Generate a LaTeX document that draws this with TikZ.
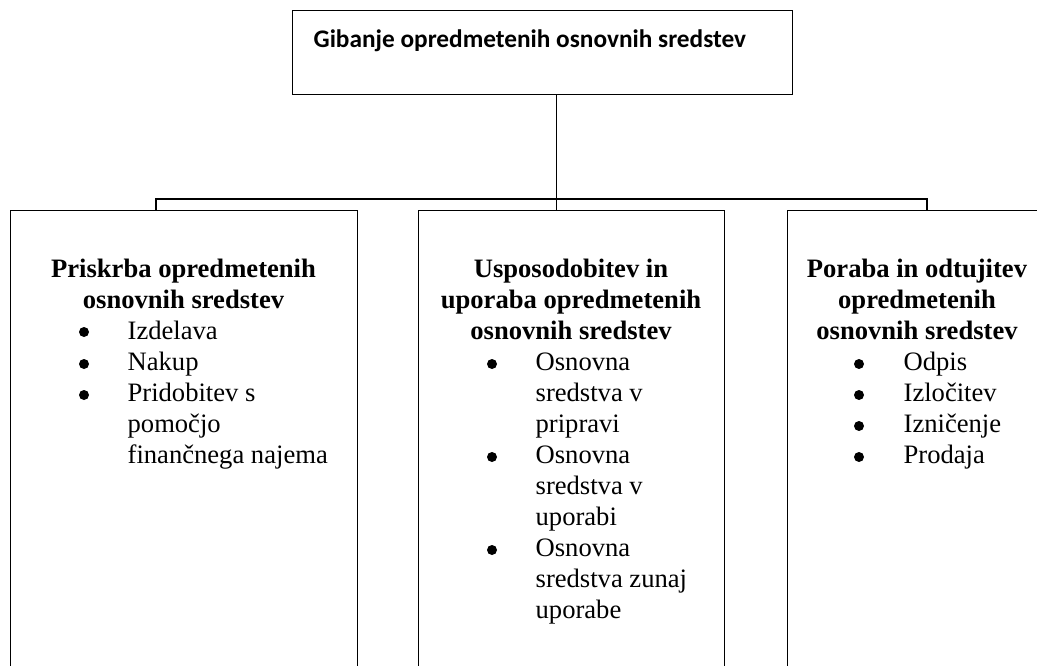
\documentclass[tikz,border=0pt]{standalone}
\usepackage{fontspec}
\setmainfont{Liberation Serif}
\newfontfamily\calibri{Carlito}
\begin{document}
\begin{tikzpicture}[x=1bp,y=-1bp, line width=1.3bp,
  box/.style={draw, rectangle, inner sep=0pt, anchor=north west},
  ttl/.style={font=\fontsize{26.7}{31}\selectfont\bfseries, align=center, anchor=base, inner sep=0pt},
  itm/.style={font=\fontsize{26.7}{31}\selectfont, align=left, anchor=base west, inner sep=0pt},
  bul/.style={circle, fill, inner sep=0pt, minimum size=10bp},
  toptitle/.style={font=\calibri\bfseries\fontsize{25.4}{30}\selectfont, anchor=base west, inner sep=0pt}]
\useasboundingbox (0,0) rectangle (1037,666);
\clip (0,0) rectangle (1037,666);
% boxes
\node[box, minimum width=500bp, minimum height=84bp] (top) at (292,10) {};
\node[box, minimum width=347bp, minimum height=520bp] (left) at (10,210) {};
\node[box, minimum width=306bp, minimum height=520bp] (mid) at (418,210) {};
\node[box, minimum width=260bp, minimum height=520bp] (right) at (787,210) {};
% title
\node[toptitle] (toptext) at (313,48) {Gibanje opredmetenih osnovnih sredstev};
% connectors
\coordinate (j) at (556,199);
\coordinate (busL) at (156,199);
\coordinate (busR) at (927,199);
\draw[line width=1bp] (j |- top.south) -- (j |- mid.north);
\draw[line width=1.6bp] (busL |- left.north) -- (busL) -- (busR) -- (busR |- right.north);
% left box (multi-line nodes are placed at the baseline of their last line)
\node[ttl] (lt) at (183.5,308) {Priskrba opredmetenih\\osnovnih sredstev};
\node[bul] (lb1) at (84,332) {};
\node[itm] (li1) at (127,339) {Izdelava};
\node[bul] (lb2) at (84,364) {};
\node[itm] (li2) at (127,370) {Nakup};
\node[bul] (lb3) at (84,395) {};
\node[itm] (li3) at (127,463) {Pridobitev s\\pomočjo\\finančnega najema};
% middle box
\node[ttl] (mt) at (571,339) {Usposodobitev in\\uporaba opredmetenih\\osnovnih sredstev};
\node[bul] (mb1) at (492,364) {};
\node[itm] (mi1) at (535,432) {Osnovna\\sredstva v\\pripravi};
\node[bul] (mb2) at (492,457) {};
\node[itm] (mi2) at (535,525) {Osnovna\\sredstva v\\uporabi};
\node[bul] (mb3) at (492,550) {};
\node[itm] (mi3) at (535,618) {Osnovna\\sredstva zunaj\\uporabe};
% right box
\node[ttl] (rt) at (917,339) {Poraba in odtujitev\\opredmetenih\\osnovnih sredstev};
\node[bul] (rb1) at (859,364) {};
\node[itm] (ri1) at (903,370) {Odpis};
\node[bul] (rb2) at (859,395) {};
\node[itm] (ri2) at (903,401) {Izločitev};
\node[bul] (rb3) at (859,426) {};
\node[itm] (ri3) at (903,432) {Izničenje};
\node[bul] (rb4) at (859,457) {};
\node[itm] (ri4) at (903,463) {Prodaja};
\end{tikzpicture}
\end{document}
